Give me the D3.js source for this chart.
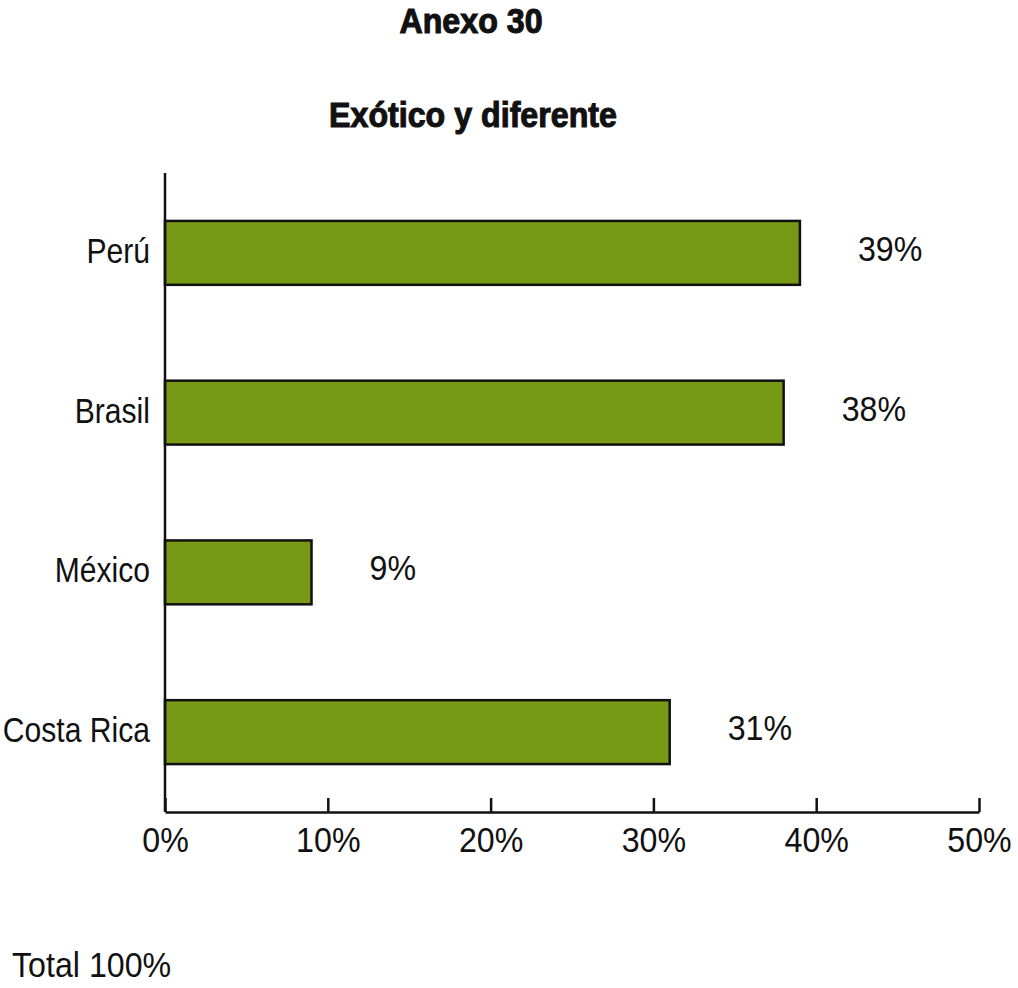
<!DOCTYPE html>
<html><head><meta charset="utf-8">
<script src="https://d3js.org/d3.v7.min.js"></script>
<style>
body{margin:0;background:#fff;}
text{font-family:"Liberation Sans","Arial",sans-serif;fill:#111;}
</style></head>
<body><svg id="c" width="1018" height="988"></svg>
<script>
const categories = ["Perú","Brasil","México","Costa Rica"];
const values = [39,38,9,31];
const tickValues = [0,10,20,30,40,50];
const tickLabels = ["0%","10%","20%","30%","40%","50%"];
const title = "Anexo 30";
const subtitle = "Exótico y diferente";
const footnote = "Total 100%";

const svg = d3.select("#c");
const x = d3.scaleLinear().domain([0,50]).range([165,979]);
const y = d3.scaleBand().domain(categories).range([173,812]).paddingInner(0.6).paddingOuter(0.3);

// horizontally condense a text around its anchor point
function condense(sel, sx){
  sel.each(function(){
    const t = d3.select(this);
    const tx = +t.attr("x") || 0, ty = +t.attr("y") || 0;
    t.attr("transform", `translate(${tx},${ty}) scale(${sx},1)`).attr("x",0).attr("y",0);
  });
}

svg.append("text").attr("x",471).attr("y",33).attr("text-anchor","middle")
  .attr("font-size",35).attr("font-weight","bold").attr("stroke","#111").attr("stroke-width",1.1)
  .text(title).call(condense,0.92);
svg.append("text").attr("x",473).attr("y",127).attr("text-anchor","middle")
  .attr("font-size",35).attr("font-weight","bold").attr("stroke","#111").attr("stroke-width",1.1)
  .text(subtitle).call(condense,0.92);

// bars
svg.selectAll("rect.bar").data(categories).enter().append("rect")
  .attr("x",x(0)).attr("y",d=>y(d))
  .attr("width",(d,i)=>x(values[i])-x(0)).attr("height",y.bandwidth())
  .attr("fill","#779a16").attr("stroke","#111").attr("stroke-width",2.5);

// value labels
svg.selectAll("text.val").data(categories).enter().append("text")
  .attr("x",(d,i)=>x(values[i])+58).attr("y",d=>y(d)+y.bandwidth()/2+8)
  .attr("font-size",35).text((d,i)=>values[i]+"%").call(condense,0.92);

// x axis
const xAxis = d3.axisBottom(x).tickValues(tickValues).tickFormat((d,i)=>tickLabels[i]).tickSizeInner(-14).tickSizeOuter(0).tickPadding(0);
const gx = svg.append("g").attr("transform","translate(0,812)").call(xAxis);
gx.select(".domain").attr("stroke","#111").attr("stroke-width",2.5);
gx.selectAll(".tick line").attr("stroke","#111").attr("stroke-width",2.5);
gx.selectAll(".tick text").attr("font-size",35).attr("fill","#111")
  .attr("font-family","Liberation Sans, Arial, sans-serif")
  .attr("y",40).attr("dy",null).call(condense,0.92);

// y axis
const yAxis = d3.axisLeft(y).tickSize(0).tickPadding(0);
const gy = svg.append("g").attr("transform","translate(165,0)").call(yAxis);
gy.select(".domain").attr("stroke","#111").attr("stroke-width",2.5).attr("d","M0,173V812");
gy.selectAll(".tick text").attr("font-size",35).attr("fill","#111")
  .attr("font-family","Liberation Sans, Arial, sans-serif")
  .attr("x",-15).attr("y",10).attr("dy",null).call(condense,0.86);

svg.append("text").attr("x",12).attr("y",977).attr("font-size",35).text(footnote).call(condense,0.92);
</script></body></html>
